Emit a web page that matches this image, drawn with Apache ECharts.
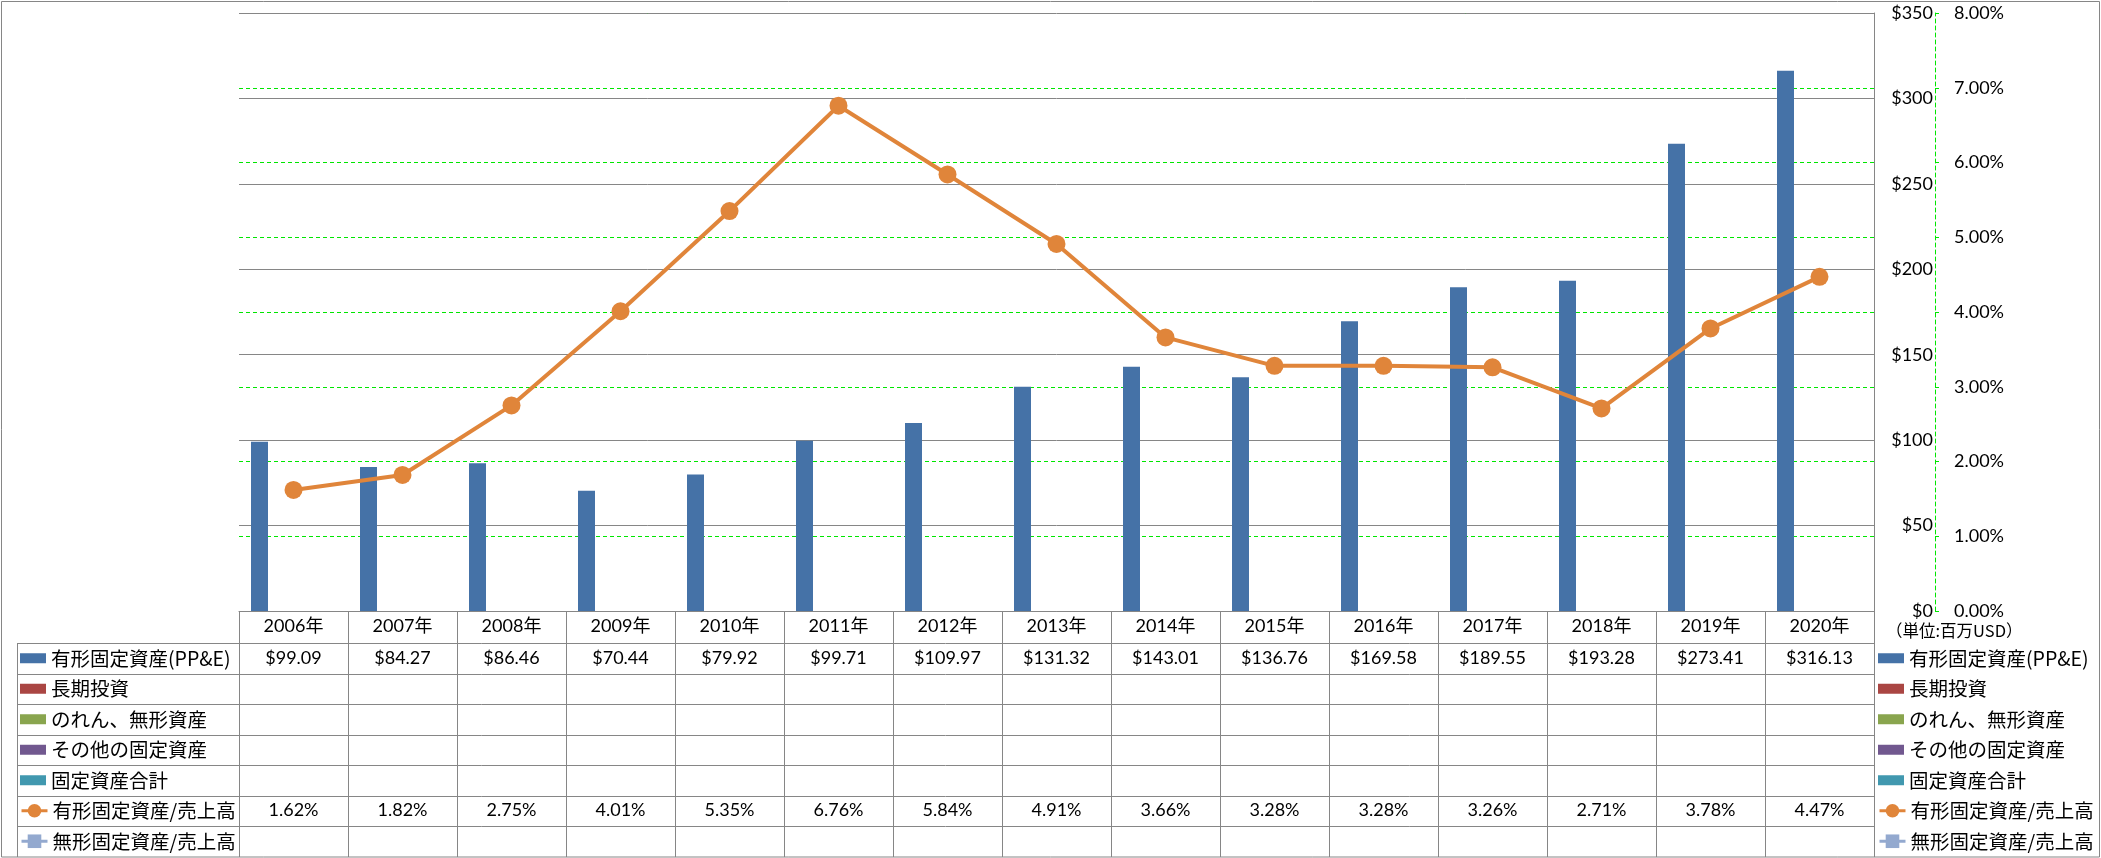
<!DOCTYPE html>
<html>
<head>
<meta charset="utf-8">
<script src="https://cdn.jsdelivr.net/npm/echarts@6/dist/echarts.min.js"></script>
<style>
html, body { margin: 0; padding: 0; background: #fff; }
#myChart { width: 2101px; height: 858px; }
</style>
</head>
<body>
<div id="myChart"></div>
<script>
// data
const years = ['2006年', '2007年', '2008年', '2009年', '2010年', '2011年', '2012年', '2013年',
    '2014年', '2015年', '2016年', '2017年', '2018年', '2019年', '2020年'];
const ppe = [99.09, 84.27, 86.46, 70.44, 79.92, 99.71, 109.97, 131.32, 143.01, 136.76, 169.58, 189.55, 193.28, 273.41, 316.13];
const longInvest = [];
const goodwill = [];
const otherFixed = [];
const totalFixed = [];
const ppeRatio = [1.62, 1.82, 2.75, 4.01, 5.35, 6.76, 5.84, 4.91, 3.66, 3.28, 3.28, 3.26, 2.71, 3.78, 4.47];
const intangibleRatio = [];
const usdAxis = { min: 0, max: 350, interval: 50 };
const pctAxis = { min: 0, max: 8, interval: 1 };
const barNames = ['有形固定資産(PP&E)', '長期投資', 'のれん、無形資産', 'その他の固定資産', '固定資産合計'];
const lineNames = ['有形固定資産/売上高', '無形固定資産/売上高'];
const unitText = '（単位:百万USD）';

// layout / style
const W = 2101, H = 858;
const GRID = { left: 239, right: 227, top: 13, bottom: 247 };
const TABLE_TOP = H - GRID.bottom;
const HEADER_H = 32;
const ROW_H = 30.5;
const TABLE_LEFT = 17;
const TABLE_RIGHT = W - GRID.right;
const GRAY = '#868686';
const GREEN = '#00e600';
const FONT_LAT = 'Lato, "Noto Sans CJK JP", sans-serif';
const FONT_JP = '"Noto Sans CJK JP", sans-serif';
const barColors = ['#4572A7', '#AA4643', '#89A54E', '#71588F', '#4198AF'];
const lineColors = ['#E0853A', '#93A9CF'];

const labelStyle = { fontFamily: FONT_LAT, fontSize: 18, color: '#000' };

let myChart = echarts.init(document.getElementById('myChart'));

const barData = [ppe, longInvest, goodwill, otherFixed, totalFixed];
let series = [];
barNames.forEach((name, i) => {
    series.push({
        name: name,
        type: 'bar',
        barWidth: 17,
        barGap: '0%',
        itemStyle: { color: barColors[i] },
        data: barData[i]
    });
});
const lineData = [ppeRatio, intangibleRatio];
lineNames.forEach((name, i) => {
    series.push({
        name: name,
        type: 'line',
        yAxisIndex: 1,
        symbol: i === 0 ? 'circle' : 'rect',
        symbolSize: i === 0 ? 18 : 12,
        lineStyle: { width: 4, color: lineColors[i] },
        itemStyle: { color: lineColors[i] },
        data: lineData[i]
    });
});

// table grid lines
let graphics = [];
for (let k = 0; k <= 6; k++) {
    const y = Math.round(TABLE_TOP + HEADER_H + ROW_H * k) + 0.5;
    graphics.push({
        type: 'line', silent: true,
        shape: { x1: TABLE_LEFT, y1: y, x2: TABLE_RIGHT, y2: y },
        style: { stroke: GRAY, lineWidth: 1 }
    });
}
graphics.push({
    type: 'line', silent: true,
    shape: { x1: TABLE_LEFT + 0.5, y1: TABLE_TOP + HEADER_H + 0.5, x2: TABLE_LEFT + 0.5, y2: H - 1 },
    style: { stroke: GRAY, lineWidth: 1 }
});
graphics.push({
    type: 'rect', silent: true,
    shape: { x: 1.5, y: 1.5, width: W - 3, height: H - 2.5 },
    style: { stroke: GRAY, fill: null, lineWidth: 1 }
});

const legendBase = {
    orient: 'vertical',
    padding: 0,
    itemGap: 0,
    itemWidth: 26,
    selectedMode: false,
    align: 'left',
    textStyle: { fontFamily: FONT_JP, fontSize: 19.5, color: '#000', lineHeight: ROW_H }
};
const rowCenter = k => TABLE_TOP + HEADER_H + ROW_H * k + ROW_H / 2;

let option = {
    animation: false,
    backgroundColor: '#fff',
    title: {
        text: unitText,
        left: 1886,
        top: 622,
        padding: 0,
        textStyle: { fontFamily: FONT_JP, fontSize: 16.5, fontWeight: 'normal', color: '#000' }
    },
    grid: {
        left: GRID.left, right: GRID.right, top: GRID.top, bottom: GRID.bottom,
        containLabel: false, outerBoundsMode: 'none'
    },
    legend: [
        Object.assign({}, legendBase, { data: barNames.map(n => ({ name: n, icon: 'rect' })), itemHeight: 10, left: 20, top: rowCenter(0) - ROW_H / 2 }),
        Object.assign({}, legendBase, { data: lineNames, itemHeight: 17, lineStyle: { width: 3 }, left: 20, top: rowCenter(5) - ROW_H / 2 }),
        Object.assign({}, legendBase, { data: barNames.map(n => ({ name: n, icon: 'rect' })), itemHeight: 10, left: TABLE_RIGHT + 4, top: rowCenter(0) - ROW_H / 2 }),
        Object.assign({}, legendBase, { data: lineNames, itemHeight: 17, lineStyle: { width: 3 }, left: TABLE_RIGHT + 4, top: rowCenter(5) - ROW_H / 2 })
    ],
    xAxis: [
        {
            type: 'category',
            data: years,
            z: 3,
            axisLine: { lineStyle: { color: GRAY } },
            axisTick: { show: true, interval: 0, length: H - 1 - TABLE_TOP, lineStyle: { color: GRAY } },
            axisLabel: Object.assign({ interval: 0, margin: 6 }, labelStyle)
        },
        {
            type: 'category',
            data: years,
            position: 'bottom',
            offset: HEADER_H,
            axisLine: { show: false },
            axisTick: { show: false },
            axisLabel: Object.assign({ interval: 0, margin: 6, formatter: (v, i) => '$' + ppe[i].toFixed(2) }, labelStyle)
        },
        {
            type: 'category',
            data: years,
            position: 'bottom',
            offset: HEADER_H + ROW_H * 5,
            axisLine: { show: false },
            axisTick: { show: false },
            axisLabel: Object.assign({ interval: 0, margin: 6, formatter: (v, i) => ppeRatio[i].toFixed(2) + '%' }, labelStyle)
        }
    ],
    yAxis: [
        {
            type: 'value',
            position: 'right',
            z: 2,
            min: usdAxis.min, max: usdAxis.max, interval: usdAxis.interval,
            axisLine: { show: true, lineStyle: { color: GRAY } },
            axisTick: { show: false },
            axisLabel: Object.assign({ formatter: v => '$' + v, align: 'right', margin: 59 }, labelStyle),
            splitLine: { show: true, lineStyle: { color: GRAY, width: 1 } }
        },
        {
            type: 'value',
            position: 'right',
            offset: 61,
            z: 1,
            min: pctAxis.min, max: pctAxis.max, interval: pctAxis.interval,
            axisLine: { show: true, lineStyle: { color: GREEN, type: [4, 3] } },
            axisTick: { show: true, length: 4, lineStyle: { color: GREEN } },
            axisLabel: Object.assign({ formatter: v => v.toFixed(2) + '%', margin: 19 }, labelStyle),
            splitLine: { show: true, lineStyle: { color: GREEN, type: [4, 3], width: 1 } }
        }
    ],
    graphic: { elements: graphics },
    series: series
};
myChart.setOption(option);
</script>
</body>
</html>
